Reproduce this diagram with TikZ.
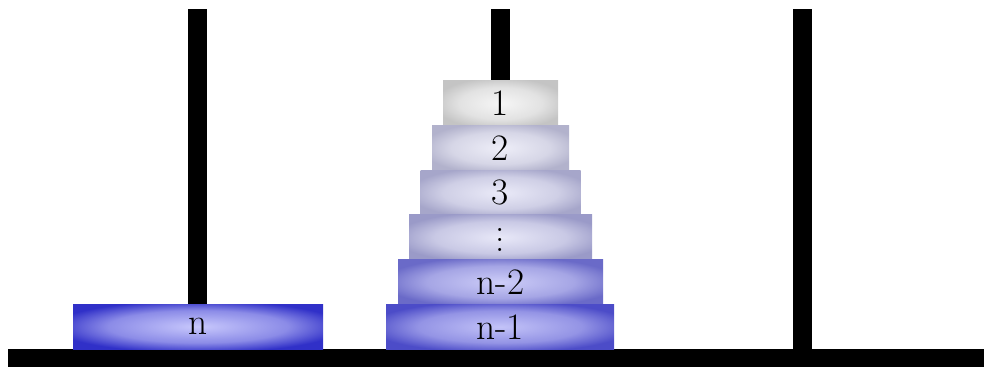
\documentclass[tikz,border=0pt]{standalone}
\usepackage{tikz}
\definecolor{oA}{RGB}{196,196,196}\definecolor{iA}{RGB}{246,246,246}
\definecolor{oB}{RGB}{178,178,204}\definecolor{iB}{RGB}{238,238,248}
\definecolor{oC}{RGB}{166,166,202}\definecolor{iC}{RGB}{234,234,248}
\definecolor{oD}{RGB}{154,154,200}\definecolor{iD}{RGB}{232,232,248}
\definecolor{oE}{RGB}{106,106,200}\definecolor{iE}{RGB}{205,205,248}
\definecolor{oF}{RGB}{76,76,200}\definecolor{iF}{RGB}{195,195,248}
\definecolor{oN}{RGB}{48,48,200}\definecolor{iN}{RGB}{200,200,252}
\colorlet{mA}{iA!60!oA}\colorlet{mB}{iB!60!oB}\colorlet{mC}{iC!60!oC}
\colorlet{mD}{iD!60!oD}\colorlet{mE}{iE!60!oE}\colorlet{mF}{iF!60!oF}
\colorlet{mN}{iN!60!oN}
\pgfdeclareradialshading{sA}{\pgfpoint{0bp}{0bp}}{color(0bp)=(iA); color(18bp)=(mA); color(29bp)=(oA); color(50bp)=(oA)}
\pgfdeclareradialshading{sB}{\pgfpoint{0bp}{0bp}}{color(0bp)=(iB); color(18bp)=(mB); color(29bp)=(oB); color(50bp)=(oB)}
\pgfdeclareradialshading{sC}{\pgfpoint{0bp}{0bp}}{color(0bp)=(iC); color(18bp)=(mC); color(29bp)=(oC); color(50bp)=(oC)}
\pgfdeclareradialshading{sD}{\pgfpoint{0bp}{0bp}}{color(0bp)=(iD); color(18bp)=(mD); color(29bp)=(oD); color(50bp)=(oD)}
\pgfdeclareradialshading{sE}{\pgfpoint{0bp}{0bp}}{color(0bp)=(iE); color(18bp)=(mE); color(29bp)=(oE); color(50bp)=(oE)}
\pgfdeclareradialshading{sF}{\pgfpoint{0bp}{0bp}}{color(0bp)=(iF); color(18bp)=(mF); color(29bp)=(oF); color(50bp)=(oF)}
\pgfdeclareradialshading{sN}{\pgfpoint{0bp}{0bp}}{color(0bp)=(iN); color(18bp)=(mN); color(29bp)=(oN); color(50bp)=(oN)}
\newcommand{\myvdots}{\vbox{\baselineskip=7.5pt\lineskiplimit=-20pt\lineskip=0pt\hbox{.}\hbox{.}\hbox{.}}}
\tikzset{
  diskbox/.style={rectangle, inner sep=0pt, draw=none, minimum height=#1,
    font=\fontsize{28}{30}\selectfont, text=black},
  diskbox/.default={33.5pt},
  rod/.style={fill=black}
}
\begin{document}
\begin{tikzpicture}[x=0.75pt,y=-0.75pt]
\useasboundingbox (0,0) rectangle (984,367);
% pegs
\fill[rod] (188,9) rectangle (207,349);
\fill[rod] (491,9) rectangle (510,349);
\fill[rod] (793,9) rectangle (812,349);
% base
\fill[rod] (8,349) rectangle (984,367);
% disk on left peg
\node[diskbox=33.75pt, shading=sN, minimum width=187.5pt] (dn) at (198,326.5) {n};
% disks on middle peg
\node[diskbox, shading=sA, minimum width=86.25pt]  (d1) at (500.5,103.3) {1};
\node[diskbox, shading=sB, minimum width=102.75pt] (d2) at (500.5,148) {2};
\node[diskbox, shading=sC, minimum width=120pt]    (d3) at (500.5,192.7) {3};
\node[diskbox, shading=sD, minimum width=137.25pt] (d4) at (500.5,237.3) {};
\node[font=\fontsize{28}{30}\selectfont, inner sep=0pt] (dots) at (500,240) {\myvdots};
\node[diskbox, shading=sE, minimum width=153.75pt] (d5) at (500.5,282) {n-2};
\node[diskbox, shading=sF, minimum width=171pt]    (d6) at (500,326.7) {n-1};
\end{tikzpicture}
\end{document}
